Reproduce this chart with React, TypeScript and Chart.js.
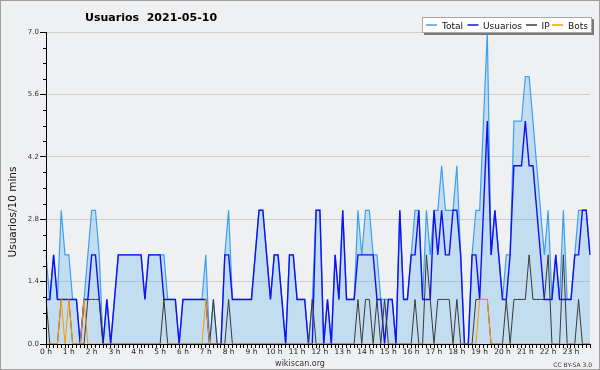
import React, { useEffect, useRef } from "react";
import { Chart, registerables } from "chart.js";

Chart.register(...registerables);

// ---------- data ----------
const chartTitle = "Usuarios  2021-05-10";
const yAxisTitle = "Usuarios/10 mins";
const hourLabels = [
  "0 h", "1 h", "2 h", "3 h", "4 h", "5 h", "6 h", "7 h", "8 h", "9 h", "10 h", "11 h",
  "12 h", "13 h", "14 h", "15 h", "16 h", "17 h", "18 h", "19 h", "20 h", "21 h", "22 h", "23 h",
];
const minuteSlots = ["00", "10", "20", "30", "40", "50"];
const yTicks = [0, 1.4, 2.8, 4.2, 5.6, 7.0];
const seriesNames = ["Total", "Usuarios", "IP", "Bots"];

// 10-minute slots, one line per hour
const totalSeries = [
  2, 1, 2, 1, 3, 2,
  2, 1, 1, 0, 1, 2,
  3, 3, 2, 0, 1, 0,
  1, 2, 2, 2, 2, 2,
  2, 2, 1, 2, 2, 2,
  2, 2, 1, 1, 1, 0,
  1, 1, 1, 1, 1, 1,
  2, 0, 1, 0, 0, 2,
  3, 1, 1, 1, 1, 1,
  1, 2, 3, 3, 2, 1,
  2, 2, 1, 0, 2, 2,
  1, 1, 1, 0, 1, 3,
  3, 0, 1, 0, 2, 1,
  3, 1, 1, 1, 3, 2,
  3, 3, 2, 2, 1, 1,
  1, 1, 0, 3, 1, 1,
  2, 3, 3, 1, 3, 2,
  3, 3, 4, 3, 3, 3,
  4, 2, 0, 0, 2, 3,
  3, 5, 7, 2, 3, 2,
  1, 2, 2, 5, 5, 5,
  6, 6, 5, 4, 3, 2,
  3, 1, 2, 1, 3, 1,
  1, 2, 3, 3, 3, 2,
];

const usuariosSeries = [
  1, 1, 2, 1, 1, 1,
  1, 1, 1, 0, 1, 1,
  2, 2, 1, 0, 1, 0,
  1, 2, 2, 2, 2, 2,
  2, 2, 1, 2, 2, 2,
  2, 1, 1, 1, 1, 0,
  1, 1, 1, 1, 1, 1,
  1, 0, 0, 0, 0, 2,
  2, 1, 1, 1, 1, 1,
  1, 2, 3, 3, 2, 1,
  2, 2, 1, 0, 2, 2,
  1, 1, 1, 0, 0, 3,
  3, 0, 1, 0, 2, 1,
  3, 1, 1, 1, 2, 2,
  2, 2, 2, 1, 1, 0,
  1, 1, 0, 3, 1, 1,
  2, 2, 3, 1, 1, 1,
  3, 2, 3, 2, 2, 3,
  3, 2, 0, 0, 2, 2,
  1, 3, 5, 2, 3, 2,
  1, 1, 2, 4, 4, 4,
  5, 4, 4, 3, 2, 1,
  1, 1, 2, 1, 1, 1,
  1, 2, 2, 3, 3, 2,
];

const ipSeries = [
  1, 0, 0, 0, 1, 1,
  1, 0, 0, 0, 0, 1,
  1, 1, 1, 0, 0, 0,
  0, 0, 0, 0, 0, 0,
  0, 0, 0, 0, 0, 0,
  0, 1, 0, 0, 0, 0,
  0, 0, 0, 0, 0, 0,
  0, 0, 1, 0, 0, 0,
  1, 0, 0, 0, 0, 0,
  0, 0, 0, 0, 0, 0,
  0, 0, 0, 0, 0, 0,
  0, 0, 0, 0, 1, 0,
  0, 0, 0, 0, 0, 0,
  0, 0, 0, 0, 1, 0,
  1, 1, 0, 1, 0, 1,
  0, 0, 0, 0, 0, 0,
  0, 1, 0, 0, 2, 1,
  0, 1, 1, 1, 1, 0,
  1, 0, 0, 0, 0, 1,
  1, 1, 1, 0, 0, 0,
  0, 1, 0, 1, 1, 1,
  1, 2, 1, 1, 1, 1,
  2, 0, 0, 0, 2, 0,
  0, 0, 1, 0, 0, 0,
];

const botsSeries = [
  0, 0, 0, 0, 1, 0,
  1, 0, 0, 0, 1, 0,
  0, 0, 0, 0, 0, 0,
  0, 0, 0, 0, 0, 0,
  0, 0, 0, 0, 0, 0,
  0, 0, 0, 0, 0, 0,
  0, 0, 0, 0, 0, 0,
  1, 0, 0, 0, 0, 0,
  0, 0, 0, 0, 0, 0,
  0, 0, 0, 0, 0, 0,
  0, 0, 0, 0, 0, 0,
  0, 0, 0, 0, 0, 0,
  0, 0, 0, 0, 0, 0,
  0, 0, 0, 0, 0, 0,
  0, 0, 0, 0, 0, 0,
  0, 0, 0, 0, 0, 0,
  0, 0, 0, 0, 0, 0,
  0, 0, 0, 0, 0, 0,
  0, 0, 0, 0, 0, 0,
  1, 1, 1, 0, 0, 0,
  0, 0, 0, 0, 0, 0,
  0, 0, 0, 0, 0, 0,
  0, 0, 0, 0, 0, 0,
  0, 0, 0, 0, 0, 0,
];

// categories: one per 10-minute slot
const slotLabels = hourLabels.flatMap((h, hi) => minuteSlots.map((m) => `${hi}:${m}`));

// ---------- styles ----------
const BG = "#eff0f2";
const LINE_COLORS = ["#3c9ff0", "#1010f4", "#3a3a3a", "#ff9a00"];
const TOTAL_FILL = "rgba(99,177,235,0.32)";
const FONT = "DejaVu Sans";

const decorPlugin = {
  id: "decor",
  beforeDraw(chart: any) {
    const { ctx, width, height } = chart;
    ctx.save();
    ctx.fillStyle = BG;
    ctx.fillRect(0, 0, width, height);
    ctx.strokeStyle = "#a0a0a0";
    ctx.lineWidth = 1;
    ctx.strokeRect(0.5, 0.5, width - 1, height - 1);
    ctx.restore();
  },
  afterDraw(chart: any) {
    const { ctx, chartArea } = chart;
    const ys = chart.scales.y;
    ctx.save();
    // minor y ticks
    ctx.strokeStyle = "#000";
    ctx.lineWidth = 1;
    for (let k = 0; k < yTicks.length - 1; k++) {
      for (let m = 1; m < 4; m++) {
        const v = yTicks[k] + ((yTicks[k + 1] - yTicks[k]) * m) / 4;
        const py = Math.round(ys.getPixelForValue(v)) + 0.5;
        ctx.beginPath();
        ctx.moveTo(chartArea.left - 3, py);
        ctx.lineTo(chartArea.left, py);
        ctx.stroke();
      }
    }
    // title
    ctx.fillStyle = "#000";
    ctx.font = `bold 11px "${FONT}"`;
    ctx.textAlign = "left";
    ctx.textBaseline = "alphabetic";
    ctx.fillText(chartTitle, 85, 20.5);
    // y axis title
    ctx.save();
    ctx.translate(16, 212);
    ctx.rotate(-Math.PI / 2);
    ctx.textAlign = "center";
    ctx.font = `10.5px "${FONT}"`;
    ctx.fillStyle = "#111";
    ctx.fillText(yAxisTitle, 0, 0);
    ctx.restore();
    // footer
    ctx.fillStyle = "#333";
    ctx.font = `8px "${FONT}"`;
    ctx.textAlign = "center";
    ctx.fillText("wikiscan.org", 300, 366);
    ctx.font = `6px "${FONT}"`;
    ctx.textAlign = "right";
    ctx.fillText("CC BY-SA 3.0", 592, 367);
    // legend box
    const bx = 422, by = 17, bw = 170, bh = 16;
    ctx.fillStyle = "#7a7a7a";
    ctx.fillRect(bx + 2, by + 2, bw, bh);
    ctx.fillStyle = "#fff";
    ctx.fillRect(bx, by, bw, bh);
    ctx.strokeStyle = "#a8a8a8";
    ctx.lineWidth = 1;
    ctx.strokeRect(bx + 0.5, by + 0.5, bw - 1, bh - 1);
    const lineX = [426, 467.5, 526, 552];
    const textX = [442, 483, 541.5, 568];
    ctx.font = `9px "${FONT}"`;
    ctx.textAlign = "left";
    seriesNames.forEach((name, i) => {
      ctx.strokeStyle = LINE_COLORS[i];
      ctx.lineWidth = 1.5;
      ctx.beginPath();
      ctx.moveTo(lineX[i], 25);
      ctx.lineTo(lineX[i] + 11, 25);
      ctx.stroke();
      ctx.fillStyle = "#111";
      ctx.fillText(name, textX[i], 28.5);
    });
    ctx.restore();
  },
};

export default function App() {
  const ref = useRef<HTMLCanvasElement>(null);
  useEffect(() => {
    const canvas = ref.current;
    if (!canvas) return;
    const chart = new Chart(canvas, {
      type: "line",
      data: {
        labels: slotLabels,
        datasets: [
          {
            label: seriesNames[0],
            data: totalSeries,
            borderColor: LINE_COLORS[0],
            backgroundColor: TOTAL_FILL,
            borderWidth: 1.2,
            fill: "origin",
            pointRadius: 0,
            tension: 0,
            order: 4,
          },
          {
            label: seriesNames[1],
            data: usuariosSeries,
            borderColor: LINE_COLORS[1],
            borderWidth: 1.4,
            fill: false,
            pointRadius: 0,
            tension: 0,
            order: 3,
          },
          {
            label: seriesNames[2],
            data: ipSeries,
            borderColor: LINE_COLORS[2],
            borderWidth: 1,
            fill: false,
            pointRadius: 0,
            tension: 0,
            order: 2,
          },
          {
            label: seriesNames[3],
            data: botsSeries,
            borderColor: LINE_COLORS[3],
            borderWidth: 1,
            fill: false,
            pointRadius: 0,
            tension: 0,
            order: 1,
          },
        ],
      },
      options: {
        animation: false,
        responsive: false,
        devicePixelRatio: 1,
        layout: { padding: { top: 32, right: 10, left: 0, bottom: 0 } },
        plugins: {
          legend: { display: false },
          tooltip: { enabled: false },
          title: { display: false },
        },
        scales: {
          x: {
            type: "category",
            offset: false,
            grid: {
              drawOnChartArea: false,
              drawTicks: true,
              tickLength: 4,
              tickColor: "#000",
              color: "#000",
            },
            border: { display: true, color: "#000", width: 1, z: 1 },
            ticks: {
              autoSkip: false,
              maxRotation: 0,
              minRotation: 0,
              padding: 0,
              color: "#222",
              font: { family: FONT, size: 7.5 },
              callback: (_v: any, i: number) => (i % 6 === 0 ? hourLabels[i / 6] : ""),
            },
            afterFit: (s: any) => {
              s.height = 26;
            },
          },
          y: {
            type: "linear",
            min: yTicks[0],
            max: yTicks[yTicks.length - 1],
            afterBuildTicks: (s: any) => {
              s.ticks = yTicks.map((v) => ({ value: v }));
            },
            grid: {
              color: "#cdcdcd",
              tickColor: "#000",
              tickLength: 6,
              lineWidth: 1,
            },
            border: { display: true, color: "#000", width: 1, z: 1 },
            ticks: {
              padding: 1,
              color: "#333",
              font: { family: FONT, size: 7 },
              callback: (v: any) => Number(v).toFixed(1),
            },
            afterFit: (s: any) => {
              s.width = 46;
            },
          },
        },
      },
      plugins: [decorPlugin],
    });
    return () => chart.destroy();
  }, []);
  return (
    <div style={{ position: "fixed", left: 0, top: 0, width: 600, height: 370 }}>
      <canvas ref={ref} width={600} height={370} style={{ display: "block", width: 600, height: 370 }} />
    </div>
  );
}
